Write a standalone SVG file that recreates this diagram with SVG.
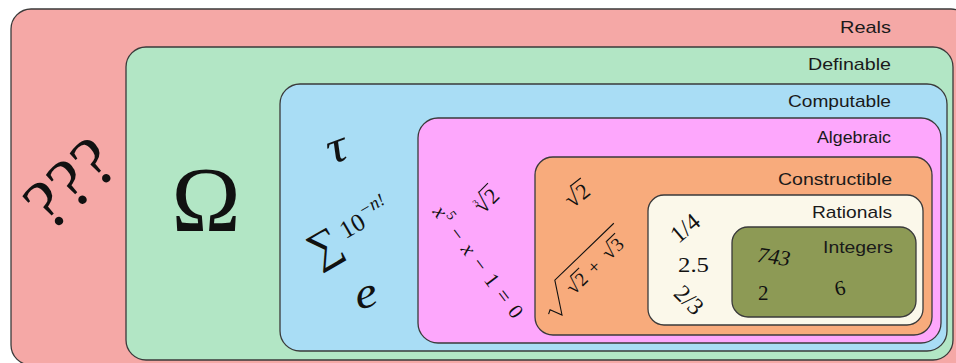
<svg xmlns="http://www.w3.org/2000/svg" width="956" height="363" viewBox="0 0 956 363">
<style>
.box{stroke:#3a3a3a;stroke-width:1.3}
.lbl{font-family:"Liberation Sans",Arial,sans-serif;font-size:17px;fill:#1a1a1a}
.m{font-family:"Liberation Serif","DejaVu Serif",serif;fill:#111}
.mi{font-family:"Liberation Serif","DejaVu Serif",serif;font-style:italic;fill:#111}
.rad{fill:none;stroke:#111;stroke-width:1.1}
</style>
<g id="reals">
<rect class="box" x="11" y="9" width="960" height="356" rx="20" fill="#f5a8a6"/>
<text class="lbl" x="840" y="33" textLength="51" lengthAdjust="spacingAndGlyphs">Reals</text>
<text class="m" transform="translate(86,201) rotate(-42)" text-anchor="middle" font-size="72">???</text>
</g>
<g id="definable">
<rect class="box" x="126" y="47" width="827" height="313" rx="20" fill="#b2e6c5"/>
<text class="lbl" x="808" y="70" textLength="83" lengthAdjust="spacingAndGlyphs">Definable</text>
<text class="m" x="206" y="231" text-anchor="middle" font-size="93">Ω</text>
</g>
<g id="computable">
<rect class="box" x="280" y="84" width="667" height="267" rx="20" fill="#a9ddf5"/>
<text class="lbl" x="788" y="107" textLength="103" lengthAdjust="spacingAndGlyphs">Computable</text>
<text class="mi" transform="translate(341,161) rotate(-20) scale(1.2,1)" text-anchor="middle" font-size="46">τ</text>
<g transform="translate(324,246) rotate(-30)">
<text class="m" x="0" y="14" text-anchor="middle" font-size="44">∑</text>
<text class="m" x="22" y="5" font-size="25">10</text>
<text class="mi" x="48" y="-6" font-size="18">−n!</text>
</g>
<text class="mi" transform="translate(369,307) rotate(-15) scale(1.15,1)" text-anchor="middle" font-size="44">e</text>
</g>
<g id="algebraic">
<rect class="box" x="418" y="118" width="523" height="225" rx="20" fill="#fda7fc"/>
<text class="lbl" x="817" y="143" textLength="74" lengthAdjust="spacingAndGlyphs">Algebraic</text>
<text class="mi" transform="translate(432,212) rotate(53)" font-size="21" textLength="135" lengthAdjust="spacing">x<tspan font-size="14" dy="-9" font-style="normal">5</tspan><tspan dy="9" font-style="normal"> − </tspan>x<tspan font-style="normal"> − 1 = 0</tspan></text>
<g transform="translate(483,215) rotate(-45)">
<text class="m" x="0" y="0" font-size="25">√</text>
<text class="m" x="14" y="0" font-size="22">2</text>
<line class="rad" x1="13" y1="-19" x2="26" y2="-19"/>
<text class="m" x="1" y="-11" font-size="9">3</text>
</g>
</g>
<g id="constructible">
<rect class="box" x="535" y="157" width="397" height="178" rx="18" fill="#f8ab7c"/>
<text class="lbl" x="778" y="185" textLength="114" lengthAdjust="spacingAndGlyphs">Constructible</text>
<g transform="translate(572,209) rotate(-38)">
<text class="m" x="0" y="0" font-size="25">√</text>
<text class="m" x="14" y="0" font-size="22">2</text>
<line class="rad" x1="13" y1="-19" x2="26" y2="-19"/>
</g>
<g transform="translate(562,315) rotate(-44)">
<path class="rad" d="M -9,-10 L -5,-12 L 0,0 L 19,-30 L 101,-30"/>
<text class="m" x="22" y="-6" font-size="21">√</text>
<text class="m" x="34" y="-6" font-size="19">2</text>
<line class="rad" x1="33" y1="-22" x2="45" y2="-22"/>
<text class="m" x="51" y="-6" font-size="19">+</text>
<text class="m" x="72" y="-6" font-size="21">√</text>
<text class="m" x="84" y="-6" font-size="19">3</text>
<line class="rad" x1="83" y1="-22" x2="95" y2="-22"/>
</g>
</g>
<g id="rationals">
<rect class="box" x="648" y="195" width="275" height="130" rx="16" fill="#fbf8ea"/>
<text class="lbl" x="812" y="218" textLength="80" lengthAdjust="spacingAndGlyphs">Rationals</text>
<text class="m" transform="translate(685,228) rotate(-40)" y="8" text-anchor="middle" font-size="24">1/4</text>
<text class="m" x="678" y="272" font-size="21" textLength="31" lengthAdjust="spacingAndGlyphs">2.5</text>
<text class="m" transform="translate(689,300) rotate(45)" y="8" text-anchor="middle" font-size="24">2/3</text>
</g>
<g id="integers">
<rect class="box" x="732" y="227" width="184" height="90" rx="16" fill="#8d9a55"/>
<text class="lbl" x="823" y="253" textLength="70" lengthAdjust="spacingAndGlyphs">Integers</text>
<text class="mi" transform="translate(774,256) rotate(8)" y="8" text-anchor="middle" font-size="22">743</text>
<text class="m" x="758" y="300" font-size="21">2</text>
<text class="m" transform="translate(840,288) rotate(-12)" y="7" text-anchor="middle" font-size="21">6</text>
</g>
<g id="connectors"/>
</svg>
